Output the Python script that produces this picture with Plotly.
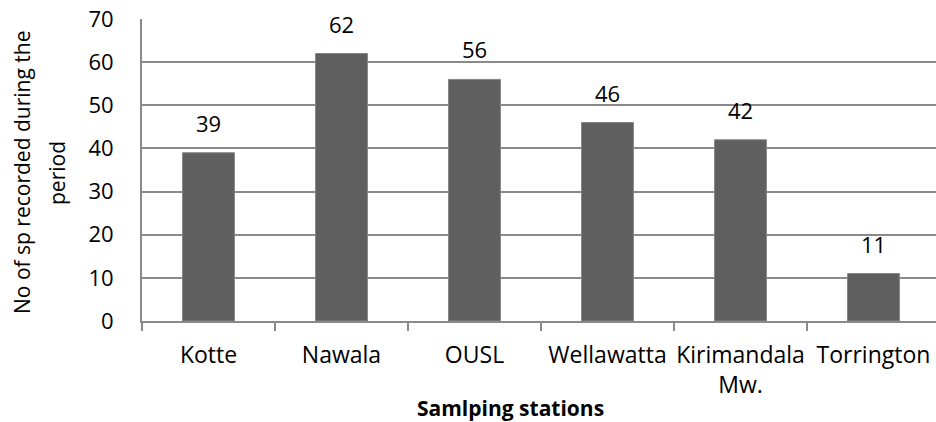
import plotly.graph_objects as go

# Species counts per sampling station
stations = ["Kotte", "Nawala", "OUSL", "Wellawatta", "Kirimandala Mw.", "Torrington"]
station_labels = ["Kotte", "Nawala", "OUSL", "Wellawatta", "Kirimandala<br>Mw.", "Torrington"]
species_counts = [39, 62, 56, 46, 42, 11]
y_ticks = [0, 10, 20, 30, 40, 50, 60, 70]

FONT = "Open Sans"
GRID = "#8a8a8a"

fig = go.Figure()
fig.add_trace(go.Bar(
    x=stations,
    y=species_counts,
    width=0.39,
    marker=dict(color="#5f5f5f", line=dict(color="#858585", width=1)),
    hoverinfo="x+y",
))

# Value labels above each bar
for s, v in zip(stations, species_counts):
    fig.add_annotation(
        x=s, y=v, text=str(v), showarrow=False,
        xref="x", yref="y", xanchor="center", yanchor="bottom", yshift=13,
        font=dict(family=FONT, size=22, color="#000000"),
    )

# Y axis title, two rotated lines
for line, shift in (("No of sp recorded during the", -120), ("period", -85)):
    fig.add_annotation(
        text=line,
        xref="paper", yref="paper", x=0, y=0.5, xshift=shift, yshift=-3,
        xanchor="center", yanchor="middle", textangle=-90, showarrow=False,
        font=dict(family=FONT, size=21, color="#000000"),
    )

fig.add_annotation(
    text="<b>Samlping stations</b>",
    xref="paper", yref="paper", x=0.4635, y=0, yshift=-87,
    xanchor="center", yanchor="middle", showarrow=False,
    font=dict(family=FONT, size=21, color="#000000"),
)

fig.update_layout(
    width=936, height=422,
    margin=dict(l=142, r=0, t=19, b=101),
    paper_bgcolor="white", plot_bgcolor="white",
    showlegend=False,
    font=dict(family=FONT, size=22, color="#000000"),
    bargap=0.61,
)
fig.update_xaxes(
    type="category",
    categoryorder="array", categoryarray=stations,
    tickmode="array", tickvals=stations, ticktext=station_labels,
    range=[-0.5, 5.47],
    tickangle=0,
    showline=True, linecolor=GRID, linewidth=2,
    ticks="outside", ticklen=8, tickcolor=GRID, tickwidth=2,
    tickson="boundaries",
    showgrid=False, zeroline=False,
    ticklabelstandoff=12,
    tickfont=dict(family=FONT, size=23, color="#000000"),
)
fig.update_yaxes(
    range=[0, 70],
    tickmode="array", tickvals=y_ticks,
    showline=True, linecolor=GRID, linewidth=2,
    showgrid=True, gridcolor=GRID, gridwidth=2,
    zeroline=False, ticks="", ticklabelstandoff=22,
    tickfont=dict(family=FONT, size=22, color="#000000"),
)

fig.write_html("out.html")
